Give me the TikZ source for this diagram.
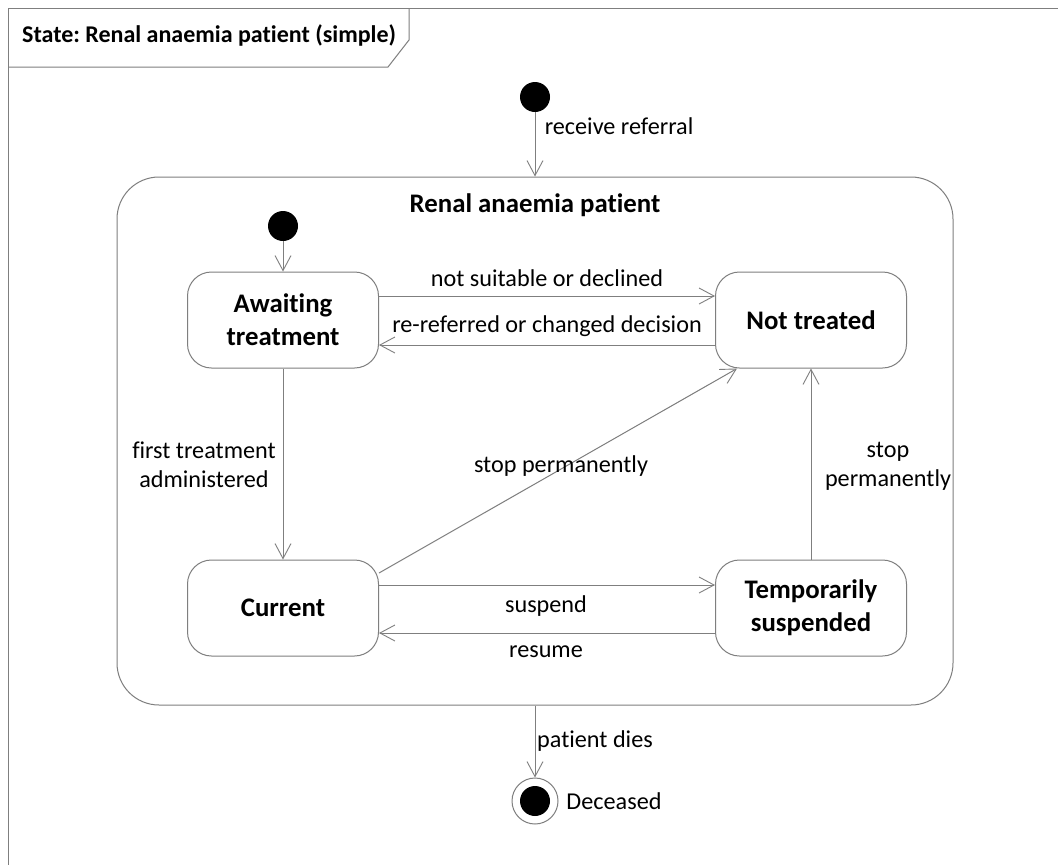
\documentclass[tikz,border=0pt]{standalone}
\usepackage{fontspec}
\setmainfont{Carlito}[Ligatures=NoCommon]
\usetikzlibrary{arrows.meta}
\definecolor{linegray}{HTML}{7F7F7F}
\frenchspacing
\begin{document}
\begin{tikzpicture}[x=1pt,y=-1pt,
  line/.style={draw=linegray, line width=1pt},
  trans/.style={line, -{Straight Barb[length=15pt,width=16pt,line width=0.9pt]}},
  namefont/.style={font=\fontsize{26.8}{33}\selectfont\bfseries},
  statebox/.style={draw=linegray, line width=1pt, rounded corners=24pt, fill=white,
    namefont, align=center, inner sep=0pt,
    minimum width=191pt, minimum height=96pt},
  lbl/.style={font=\fontsize{24.2}{29}\selectfont, text=black, inner sep=0pt, align=center},
  initial/.style={circle, fill=black, minimum size=30pt, inner sep=0pt},
]
% canvas
\useasboundingbox (0,0) rectangle (1058,865);
\fill[white] (0,0) rectangle (1058,865);

% diagram frame with name tab
\draw[line] (8,865) -- (8,8) -- (1058,8);
\draw[line] (409,8) -- (409,40) -- (388,67) -- (8,67);
\node[anchor=west, font=\fontsize{24}{29}\selectfont\bfseries, inner sep=0pt] (title) at (22,35)
  {State: Renal anaemia patient (simple)};

% composite state
\node[draw=linegray, line width=1pt, rounded corners=42pt, minimum width=836pt,
  minimum height=528pt, inner sep=0pt] (comp) at (535,441) {};
\node[namefont, inner sep=0pt] (comptitle) at (535,205) {Renal anaemia patient};

% pseudo states
\node[initial] (start) at (535,97) {};
\node[initial] (innerstart) at (283,226) {};
\node[circle, draw=linegray, line width=1pt, minimum size=46pt, inner sep=0pt] (final) at (535,801) {};
\node[initial] (finaldot) at (535,801) {};

% states
\node[statebox] (await) at (283,320) {Awaiting\\treatment};
\node[statebox] (nottreated) at (811,320) {Not treated};
\node[statebox] (current) at (283,608) {Current};
\node[statebox] (suspended) at (811,608) {Temporarily\\suspended};

% transitions
\draw[trans] (start) -- (comp.north);
\draw[trans] (innerstart) -- (await.north);
\draw[trans] ([yshift=24pt]await.east) -- ([yshift=24pt]nottreated.west);
\draw[trans] ([yshift=-25pt]nottreated.west) -- ([yshift=-25pt]await.east);
\draw[trans] (await.south) -- (current.north);
\draw[trans] ([yshift=35pt]current.east) -- ([xshift=-74pt]nottreated.south);
\draw[trans] (suspended.north) -- (nottreated.south);
\draw[trans] ([yshift=23pt]current.east) -- ([yshift=23pt]suspended.west);
\draw[trans] ([yshift=-25pt]suspended.west) -- ([yshift=-25pt]current.east);
\draw[trans] (comp.south) -- (final.north);

% labels
\node[lbl] (lreceive) at (619,126) {receive referral};
\node[lbl] (lnotsuit) at (547,278) {not suitable or declined};
\node[lbl] (lrerefer) at (547,326) {re-referred or changed decision};
\node[lbl] (lfirst) at (204,465) {first treatment\\administered};
\node[lbl] (lstopdiag) at (561,466) {stop permanently};
\node[lbl] (lstopvert) at (888,466) {stop\\permanently};
\node[lbl] (lsuspend) at (546,606) {suspend};
\node[lbl] (lresume) at (546,652) {resume};
\node[lbl] (ldies) at (595,741) {patient dies};
\node[lbl] (ldeceased) at (614,801) {Deceased};
\end{tikzpicture}
\end{document}
